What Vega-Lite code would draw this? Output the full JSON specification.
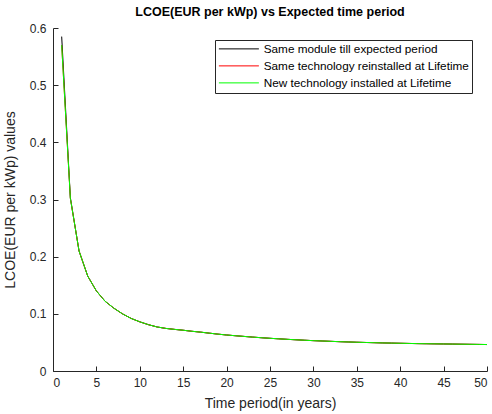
{
  "$schema": "https://vega.github.io/schema/vega-lite/v6.json",
  "width": 434,
  "height": 343,
  "autosize": {"type": "none"},
  "padding": {"left": 53, "top": 28, "right": 5, "bottom": 43},
  "background": "white",
  "config": {
    "font": "Liberation Sans",
    "view": {"stroke": null},
    "axis": {
      "grid": false,
      "ticks": true,
      "domainColor": "#262626",
      "tickColor": "#262626",
      "labelColor": "#262626",
      "titleColor": "#262626",
      "labelFontSize": 12,
      "titleFontSize": 14,
      "titleFontWeight": "normal",
      "tickSize": -5,
      "domainWidth": 1,
      "tickWidth": 1
    }
  },
  "title": {
    "text": "LCOE(EUR per kWp) vs Expected time period",
    "fontSize": 12.5,
    "fontWeight": "bold",
    "color": "black",
    "frame": "group",
    "anchor": "middle",
    "offset": 4
  },
  "data": {
    "values": [
      {"year": 1, "series": "Same module till expected period", "lcoe": 0.585},
      {"year": 2, "series": "Same module till expected period", "lcoe": 0.303},
      {"year": 3, "series": "Same module till expected period", "lcoe": 0.210},
      {"year": 4, "series": "Same module till expected period", "lcoe": 0.166},
      {"year": 5, "series": "Same module till expected period", "lcoe": 0.140},
      {"year": 6, "series": "Same module till expected period", "lcoe": 0.122},
      {"year": 7, "series": "Same module till expected period", "lcoe": 0.110},
      {"year": 8, "series": "Same module till expected period", "lcoe": 0.100},
      {"year": 9, "series": "Same module till expected period", "lcoe": 0.092},
      {"year": 10, "series": "Same module till expected period", "lcoe": 0.086},
      {"year": 11, "series": "Same module till expected period", "lcoe": 0.081},
      {"year": 12, "series": "Same module till expected period", "lcoe": 0.077},
      {"year": 13, "series": "Same module till expected period", "lcoe": 0.0745},
      {"year": 14, "series": "Same module till expected period", "lcoe": 0.0728},
      {"year": 15, "series": "Same module till expected period", "lcoe": 0.0713},
      {"year": 16, "series": "Same module till expected period", "lcoe": 0.0695},
      {"year": 17, "series": "Same module till expected period", "lcoe": 0.068},
      {"year": 18, "series": "Same module till expected period", "lcoe": 0.0662},
      {"year": 19, "series": "Same module till expected period", "lcoe": 0.0645},
      {"year": 20, "series": "Same module till expected period", "lcoe": 0.063},
      {"year": 21, "series": "Same module till expected period", "lcoe": 0.0617},
      {"year": 22, "series": "Same module till expected period", "lcoe": 0.0605},
      {"year": 23, "series": "Same module till expected period", "lcoe": 0.0593},
      {"year": 24, "series": "Same module till expected period", "lcoe": 0.0582},
      {"year": 25, "series": "Same module till expected period", "lcoe": 0.0572},
      {"year": 26, "series": "Same module till expected period", "lcoe": 0.0563},
      {"year": 27, "series": "Same module till expected period", "lcoe": 0.0554},
      {"year": 28, "series": "Same module till expected period", "lcoe": 0.0546},
      {"year": 29, "series": "Same module till expected period", "lcoe": 0.0538},
      {"year": 30, "series": "Same module till expected period", "lcoe": 0.0531},
      {"year": 31, "series": "Same module till expected period", "lcoe": 0.0525},
      {"year": 32, "series": "Same module till expected period", "lcoe": 0.0519},
      {"year": 33, "series": "Same module till expected period", "lcoe": 0.0513},
      {"year": 34, "series": "Same module till expected period", "lcoe": 0.0508},
      {"year": 35, "series": "Same module till expected period", "lcoe": 0.0503},
      {"year": 36, "series": "Same module till expected period", "lcoe": 0.0499},
      {"year": 37, "series": "Same module till expected period", "lcoe": 0.0495},
      {"year": 38, "series": "Same module till expected period", "lcoe": 0.0491},
      {"year": 39, "series": "Same module till expected period", "lcoe": 0.0488},
      {"year": 40, "series": "Same module till expected period", "lcoe": 0.0485},
      {"year": 41, "series": "Same module till expected period", "lcoe": 0.0482},
      {"year": 42, "series": "Same module till expected period", "lcoe": 0.0479},
      {"year": 43, "series": "Same module till expected period", "lcoe": 0.0477},
      {"year": 44, "series": "Same module till expected period", "lcoe": 0.0475},
      {"year": 45, "series": "Same module till expected period", "lcoe": 0.0473},
      {"year": 46, "series": "Same module till expected period", "lcoe": 0.0471},
      {"year": 47, "series": "Same module till expected period", "lcoe": 0.0469},
      {"year": 48, "series": "Same module till expected period", "lcoe": 0.0467},
      {"year": 49, "series": "Same module till expected period", "lcoe": 0.0465},
      {"year": 50, "series": "Same module till expected period", "lcoe": 0.0463},
      {"year": 1, "series": "Same technology reinstalled at Lifetime", "lcoe": 0.570},
      {"year": 2, "series": "Same technology reinstalled at Lifetime", "lcoe": 0.302},
      {"year": 3, "series": "Same technology reinstalled at Lifetime", "lcoe": 0.210},
      {"year": 4, "series": "Same technology reinstalled at Lifetime", "lcoe": 0.166},
      {"year": 5, "series": "Same technology reinstalled at Lifetime", "lcoe": 0.140},
      {"year": 6, "series": "Same technology reinstalled at Lifetime", "lcoe": 0.122},
      {"year": 7, "series": "Same technology reinstalled at Lifetime", "lcoe": 0.110},
      {"year": 8, "series": "Same technology reinstalled at Lifetime", "lcoe": 0.100},
      {"year": 9, "series": "Same technology reinstalled at Lifetime", "lcoe": 0.092},
      {"year": 10, "series": "Same technology reinstalled at Lifetime", "lcoe": 0.086},
      {"year": 11, "series": "Same technology reinstalled at Lifetime", "lcoe": 0.081},
      {"year": 12, "series": "Same technology reinstalled at Lifetime", "lcoe": 0.077},
      {"year": 13, "series": "Same technology reinstalled at Lifetime", "lcoe": 0.0745},
      {"year": 14, "series": "Same technology reinstalled at Lifetime", "lcoe": 0.0728},
      {"year": 15, "series": "Same technology reinstalled at Lifetime", "lcoe": 0.0713},
      {"year": 16, "series": "Same technology reinstalled at Lifetime", "lcoe": 0.0695},
      {"year": 17, "series": "Same technology reinstalled at Lifetime", "lcoe": 0.068},
      {"year": 18, "series": "Same technology reinstalled at Lifetime", "lcoe": 0.0662},
      {"year": 19, "series": "Same technology reinstalled at Lifetime", "lcoe": 0.0645},
      {"year": 20, "series": "Same technology reinstalled at Lifetime", "lcoe": 0.063},
      {"year": 21, "series": "Same technology reinstalled at Lifetime", "lcoe": 0.0617},
      {"year": 22, "series": "Same technology reinstalled at Lifetime", "lcoe": 0.0605},
      {"year": 23, "series": "Same technology reinstalled at Lifetime", "lcoe": 0.0593},
      {"year": 24, "series": "Same technology reinstalled at Lifetime", "lcoe": 0.0582},
      {"year": 25, "series": "Same technology reinstalled at Lifetime", "lcoe": 0.0572},
      {"year": 26, "series": "Same technology reinstalled at Lifetime", "lcoe": 0.0563},
      {"year": 27, "series": "Same technology reinstalled at Lifetime", "lcoe": 0.0554},
      {"year": 28, "series": "Same technology reinstalled at Lifetime", "lcoe": 0.0546},
      {"year": 29, "series": "Same technology reinstalled at Lifetime", "lcoe": 0.0538},
      {"year": 30, "series": "Same technology reinstalled at Lifetime", "lcoe": 0.0531},
      {"year": 31, "series": "Same technology reinstalled at Lifetime", "lcoe": 0.0525},
      {"year": 32, "series": "Same technology reinstalled at Lifetime", "lcoe": 0.0519},
      {"year": 33, "series": "Same technology reinstalled at Lifetime", "lcoe": 0.0513},
      {"year": 34, "series": "Same technology reinstalled at Lifetime", "lcoe": 0.0508},
      {"year": 35, "series": "Same technology reinstalled at Lifetime", "lcoe": 0.0503},
      {"year": 36, "series": "Same technology reinstalled at Lifetime", "lcoe": 0.0499},
      {"year": 37, "series": "Same technology reinstalled at Lifetime", "lcoe": 0.0495},
      {"year": 38, "series": "Same technology reinstalled at Lifetime", "lcoe": 0.0491},
      {"year": 39, "series": "Same technology reinstalled at Lifetime", "lcoe": 0.0488},
      {"year": 40, "series": "Same technology reinstalled at Lifetime", "lcoe": 0.0485},
      {"year": 41, "series": "Same technology reinstalled at Lifetime", "lcoe": 0.0482},
      {"year": 42, "series": "Same technology reinstalled at Lifetime", "lcoe": 0.0479},
      {"year": 43, "series": "Same technology reinstalled at Lifetime", "lcoe": 0.0477},
      {"year": 44, "series": "Same technology reinstalled at Lifetime", "lcoe": 0.0475},
      {"year": 45, "series": "Same technology reinstalled at Lifetime", "lcoe": 0.0473},
      {"year": 46, "series": "Same technology reinstalled at Lifetime", "lcoe": 0.0471},
      {"year": 47, "series": "Same technology reinstalled at Lifetime", "lcoe": 0.0469},
      {"year": 48, "series": "Same technology reinstalled at Lifetime", "lcoe": 0.0467},
      {"year": 49, "series": "Same technology reinstalled at Lifetime", "lcoe": 0.0465},
      {"year": 50, "series": "Same technology reinstalled at Lifetime", "lcoe": 0.0463},
      {"year": 1, "series": "New technology installed at Lifetime", "lcoe": 0.570},
      {"year": 2, "series": "New technology installed at Lifetime", "lcoe": 0.302},
      {"year": 3, "series": "New technology installed at Lifetime", "lcoe": 0.210},
      {"year": 4, "series": "New technology installed at Lifetime", "lcoe": 0.166},
      {"year": 5, "series": "New technology installed at Lifetime", "lcoe": 0.140},
      {"year": 6, "series": "New technology installed at Lifetime", "lcoe": 0.122},
      {"year": 7, "series": "New technology installed at Lifetime", "lcoe": 0.110},
      {"year": 8, "series": "New technology installed at Lifetime", "lcoe": 0.100},
      {"year": 9, "series": "New technology installed at Lifetime", "lcoe": 0.092},
      {"year": 10, "series": "New technology installed at Lifetime", "lcoe": 0.086},
      {"year": 11, "series": "New technology installed at Lifetime", "lcoe": 0.081},
      {"year": 12, "series": "New technology installed at Lifetime", "lcoe": 0.077},
      {"year": 13, "series": "New technology installed at Lifetime", "lcoe": 0.0745},
      {"year": 14, "series": "New technology installed at Lifetime", "lcoe": 0.0728},
      {"year": 15, "series": "New technology installed at Lifetime", "lcoe": 0.0713},
      {"year": 16, "series": "New technology installed at Lifetime", "lcoe": 0.0695},
      {"year": 17, "series": "New technology installed at Lifetime", "lcoe": 0.068},
      {"year": 18, "series": "New technology installed at Lifetime", "lcoe": 0.0662},
      {"year": 19, "series": "New technology installed at Lifetime", "lcoe": 0.0645},
      {"year": 20, "series": "New technology installed at Lifetime", "lcoe": 0.063},
      {"year": 21, "series": "New technology installed at Lifetime", "lcoe": 0.0617},
      {"year": 22, "series": "New technology installed at Lifetime", "lcoe": 0.0605},
      {"year": 23, "series": "New technology installed at Lifetime", "lcoe": 0.0593},
      {"year": 24, "series": "New technology installed at Lifetime", "lcoe": 0.0582},
      {"year": 25, "series": "New technology installed at Lifetime", "lcoe": 0.0572},
      {"year": 26, "series": "New technology installed at Lifetime", "lcoe": 0.0563},
      {"year": 27, "series": "New technology installed at Lifetime", "lcoe": 0.0554},
      {"year": 28, "series": "New technology installed at Lifetime", "lcoe": 0.0546},
      {"year": 29, "series": "New technology installed at Lifetime", "lcoe": 0.0538},
      {"year": 30, "series": "New technology installed at Lifetime", "lcoe": 0.0531},
      {"year": 31, "series": "New technology installed at Lifetime", "lcoe": 0.0525},
      {"year": 32, "series": "New technology installed at Lifetime", "lcoe": 0.0519},
      {"year": 33, "series": "New technology installed at Lifetime", "lcoe": 0.0513},
      {"year": 34, "series": "New technology installed at Lifetime", "lcoe": 0.0508},
      {"year": 35, "series": "New technology installed at Lifetime", "lcoe": 0.0503},
      {"year": 36, "series": "New technology installed at Lifetime", "lcoe": 0.0499},
      {"year": 37, "series": "New technology installed at Lifetime", "lcoe": 0.0495},
      {"year": 38, "series": "New technology installed at Lifetime", "lcoe": 0.0491},
      {"year": 39, "series": "New technology installed at Lifetime", "lcoe": 0.0488},
      {"year": 40, "series": "New technology installed at Lifetime", "lcoe": 0.0485},
      {"year": 41, "series": "New technology installed at Lifetime", "lcoe": 0.0482},
      {"year": 42, "series": "New technology installed at Lifetime", "lcoe": 0.0479},
      {"year": 43, "series": "New technology installed at Lifetime", "lcoe": 0.0477},
      {"year": 44, "series": "New technology installed at Lifetime", "lcoe": 0.0475},
      {"year": 45, "series": "New technology installed at Lifetime", "lcoe": 0.0473},
      {"year": 46, "series": "New technology installed at Lifetime", "lcoe": 0.0471},
      {"year": 47, "series": "New technology installed at Lifetime", "lcoe": 0.0469},
      {"year": 48, "series": "New technology installed at Lifetime", "lcoe": 0.0467},
      {"year": 49, "series": "New technology installed at Lifetime", "lcoe": 0.0465},
      {"year": 50, "series": "New technology installed at Lifetime", "lcoe": 0.0463}
    ]
  },
  "encoding": {
    "x": {
      "field": "year",
      "type": "quantitative",
      "scale": {"domain": [0, 50], "nice": false},
      "axis": {"title": "Time period(in years)", "values": [0, 5, 10, 15, 20, 25, 30, 35, 40, 45, 50], "labelPadding": 11, "titlePadding": 8}
    },
    "y": {
      "field": "lcoe",
      "type": "quantitative",
      "scale": {"domain": [0, 0.6], "nice": false},
      "axis": {"title": "LCOE(EUR per kWp) values", "values": [0, 0.1, 0.2, 0.3, 0.4, 0.5, 0.6], "format": "~g", "labelPadding": 12, "titlePadding": 12}
    },
    "color": {
      "field": "series",
      "type": "nominal",
      "scale": {
        "domain": ["Same module till expected period", "Same technology reinstalled at Lifetime", "New technology installed at Lifetime"],
        "range": ["#000000", "#ff0000", "#00ff00"]
      },
      "legend": {
        "title": null,
        "orient": "none",
        "legendX": 162,
        "legendY": 12,
        "symbolType": "M-1,0H7",
        "symbolSize": 100,
        "symbolStrokeWidth": 1,
        "symbolOpacity": 1,
        "labelFontSize": 11.75,
        "labelLimit": 400,
        "labelColor": "black",
        "labelOffset": 34,
        "strokeColor": "#262626",
        "fillColor": "white",
        "padding": 3,
        "rowPadding": 4
      }
    }
  },
  "layer": [
    {"transform": [{"filter": "datum.series === 'Same module till expected period'"}], "mark": {"type": "line", "strokeWidth": 1}},
    {"transform": [{"filter": "datum.series === 'Same technology reinstalled at Lifetime'"}], "mark": {"type": "line", "strokeWidth": 1}},
    {"transform": [{"filter": "datum.series === 'New technology installed at Lifetime'"}], "mark": {"type": "line", "strokeWidth": 1}}
  ]
}
